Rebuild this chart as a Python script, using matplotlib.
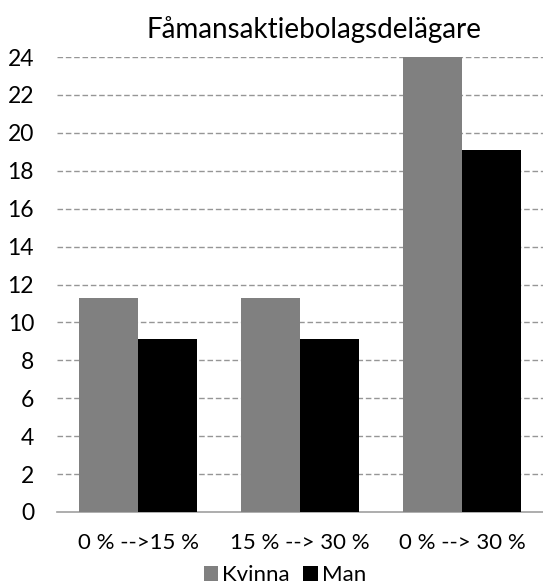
import matplotlib
matplotlib.use("Agg")
import matplotlib.pyplot as plt
import numpy as np

plt.rcParams['font.family'] = ['Lato', 'DejaVu Sans']

categories = ["0 % -->15 %", "15 % --> 30 %", "0 % --> 30 %"]
kvinna = [11.3, 11.3, 24.0]
man = [9.1, 9.1, 19.1]
yticks = list(range(0, 25, 2))

fig = plt.figure(figsize=(5.43, 5.86), dpi=100)
ax = fig.add_axes([57/543, 1 - 512/586, 1 - 57/543, (512 - 57)/586])

x = np.arange(len(categories))
w = 0.364
ax.bar(x - w/2, kvinna, w, color="#808080", label="Kvinna", zorder=3)
ax.bar(x + w/2, man, w, color="#000000", label="Man", zorder=3)

ax.set_xlim(-0.5, 2.5)
ax.set_ylim(0, 24)
ax.set_yticks(yticks)
ax.set_yticklabels([str(t) for t in yticks], fontsize=16.5)
ax.set_xticks(x)
ax.set_xticklabels(categories, fontsize=16)
ax.tick_params(axis='both', length=0)
ax.tick_params(axis='x', pad=15)
ax.tick_params(axis='y', pad=16.5)

for t in yticks[1:]:
    ax.axhline(t, color="#969696", lw=1, ls=(0, (4, 2)), zorder=1)

for s in ["top", "right", "left"]:
    ax.spines[s].set_visible(False)
ax.spines["bottom"].set_color("#a0a0a0")
ax.spines["bottom"].set_linewidth(1.2)

fig.text(0.578, 1 - 30/586, "Fåmansaktiebolagsdelägare", fontsize=20, ha="center", va="center")

leg = fig.legend(loc="center", bbox_to_anchor=(0.525, 1 - 575/586), ncol=2, frameon=False,
                 fontsize=16, handlelength=0.65, handleheight=0.65, handletextpad=0.2,
                 columnspacing=0.6, borderaxespad=0)

fig.savefig("out.png", dpi=100)
